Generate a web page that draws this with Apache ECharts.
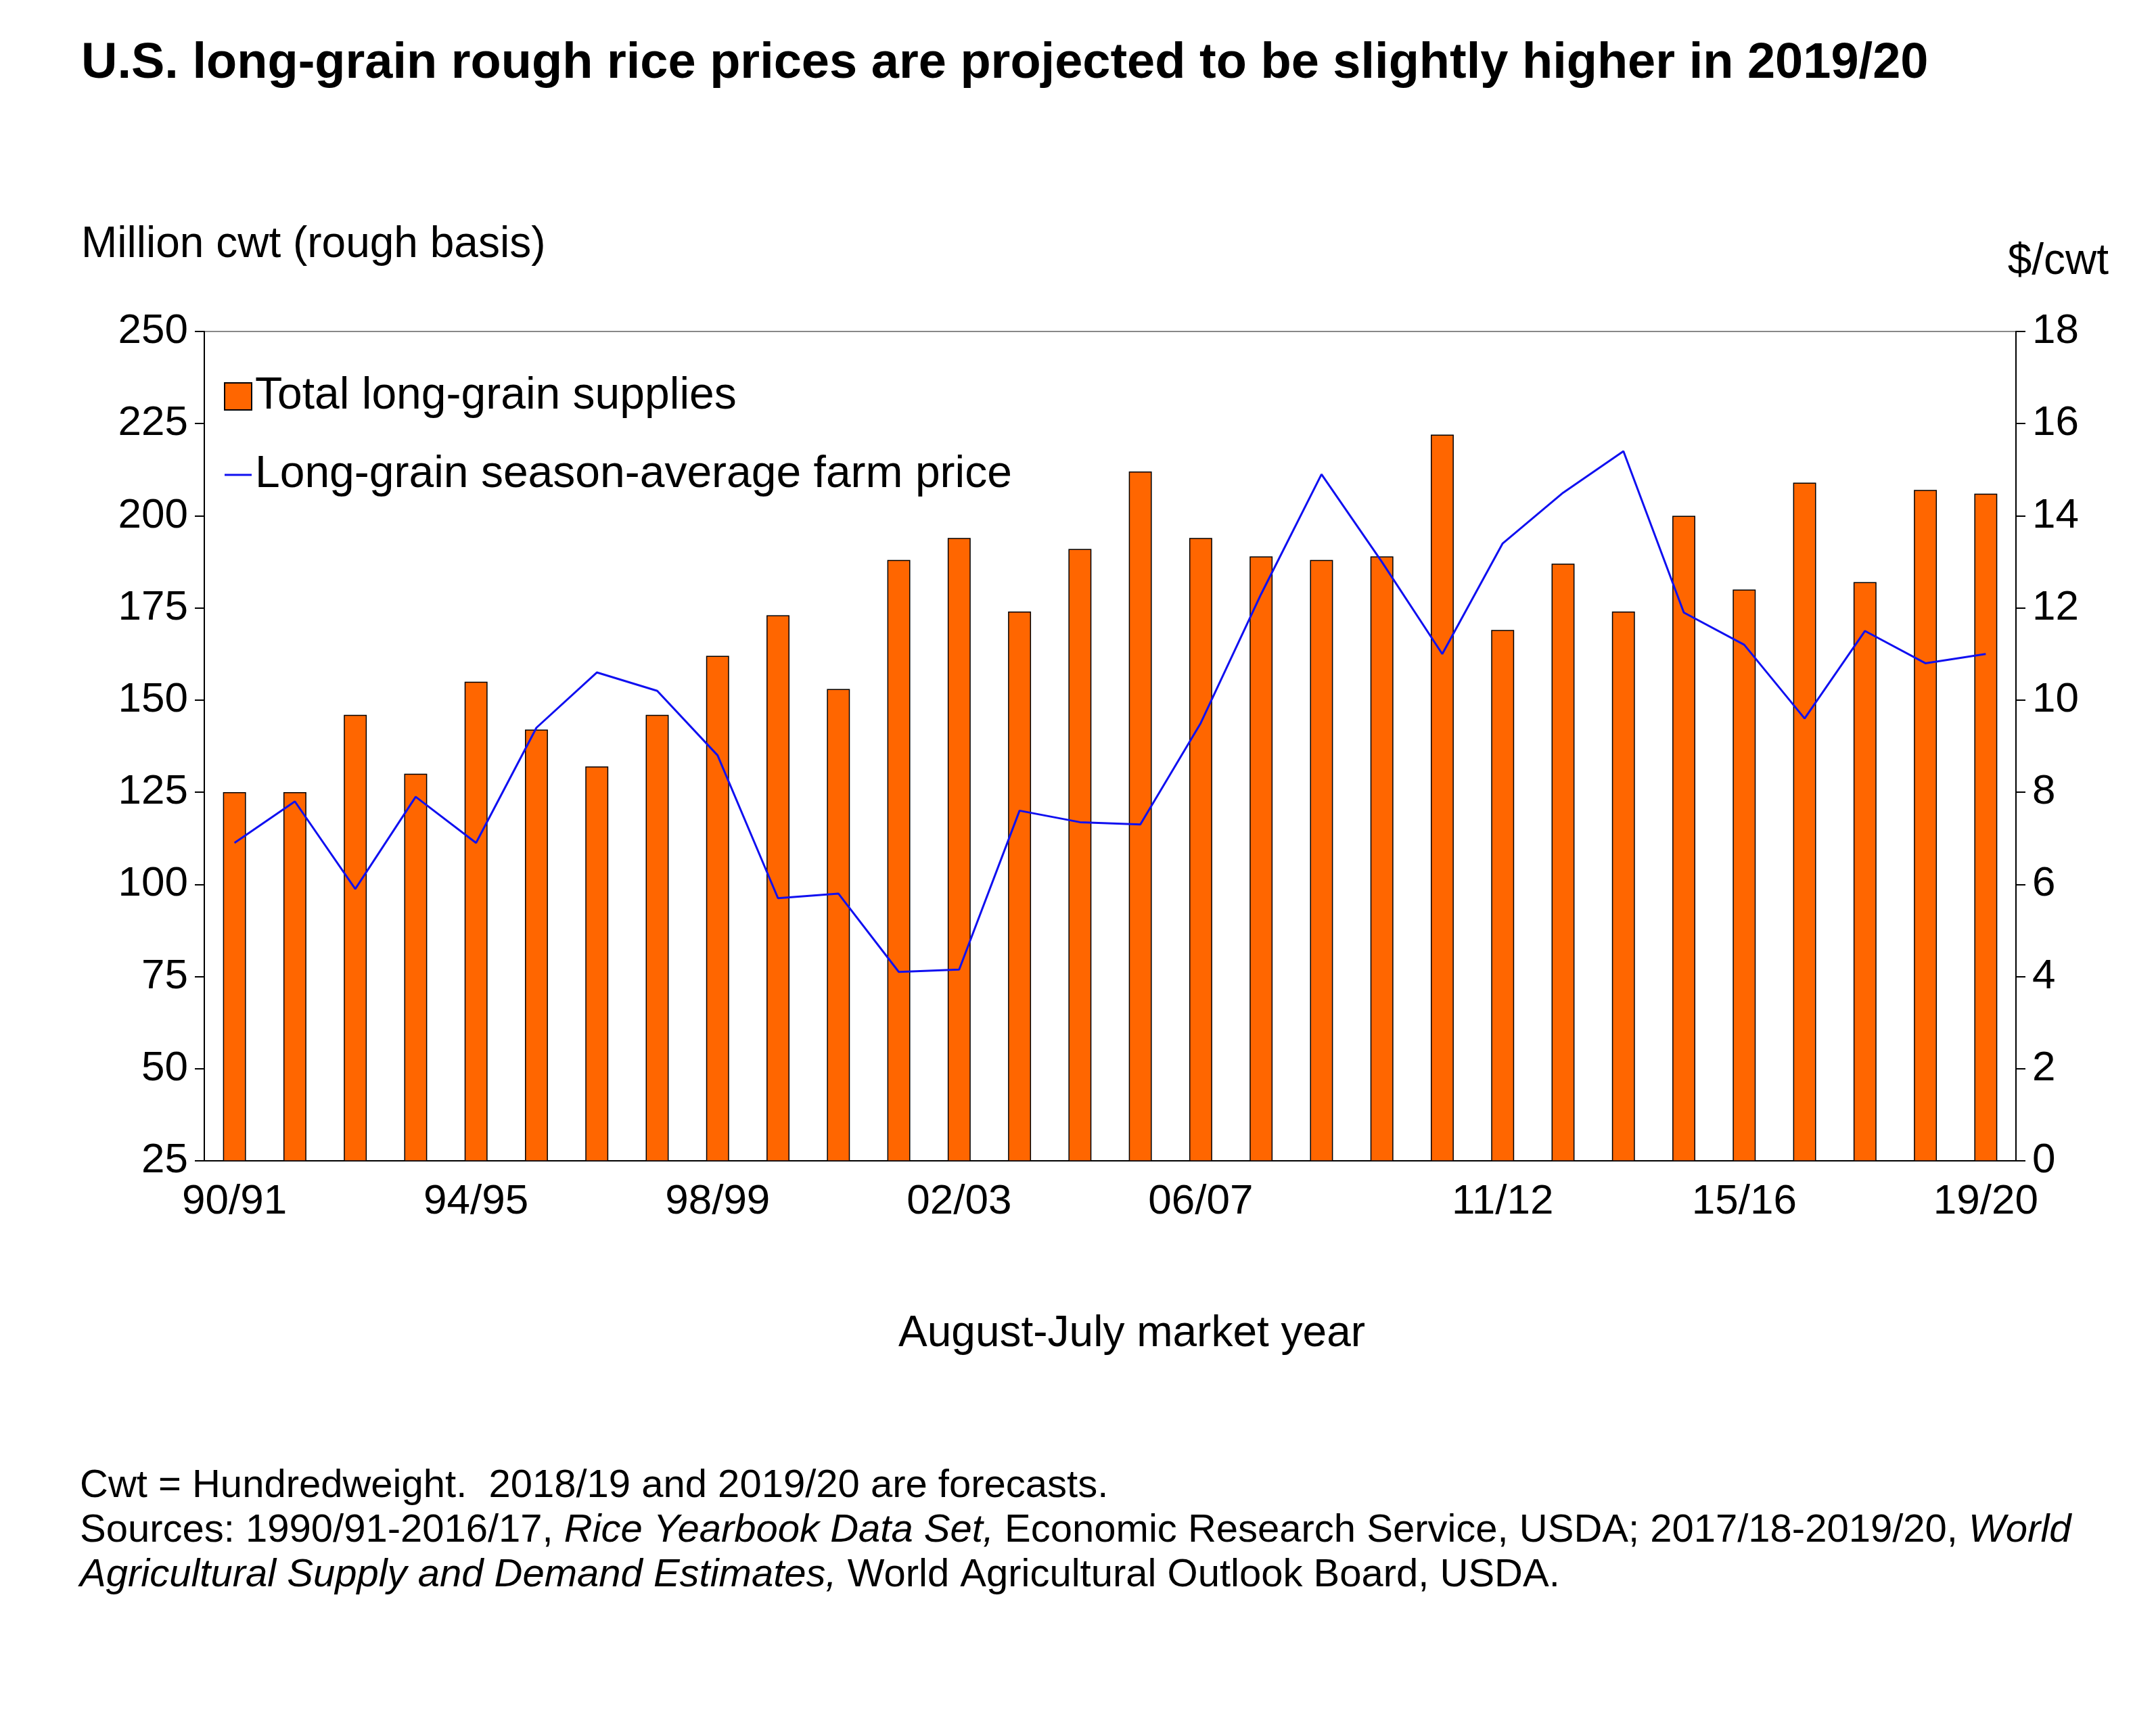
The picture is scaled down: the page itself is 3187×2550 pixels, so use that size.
<!DOCTYPE html><html><head><meta charset="utf-8">
<script src="https://cdn.jsdelivr.net/npm/echarts@6/dist/echarts.min.js"></script>
<style>body{margin:0;background:#fff}#c{width:3187px;height:2550px}</style></head><body><div id="c"></div><script>
const categories=["90/91","91/92","92/93","93/94","94/95","95/96","96/97","97/98","98/99","99/00","00/01","01/02","02/03","03/04","04/05","05/06","06/07","07/08","08/09","09/10","10/11","11/12","12/13","13/14","14/15","15/16","16/17","17/18","18/19","19/20"];
const supplies=[125,125,146,130,155,142,132,146,162,173,153,188,194,174,191,212,194,189,188,189,222,169,187,174,200,180,209,182,207,206];
const price=[6.9,7.8,5.9,7.9,6.9,9.4,10.6,10.2,8.8,5.7,5.8,4.1,4.15,7.6,7.35,7.3,9.5,12.3,14.9,13.0,11.0,13.4,14.5,15.4,11.9,11.2,9.6,11.5,10.8,11.0];
const shownLabels=[0,4,8,12,16,21,25,29];
const F="Liberation Sans, Arial, sans-serif";
const ch=echarts.init(document.getElementById('c'));
ch.setOption({
 textStyle:{fontFamily:F},
 graphic:[
  {type:'text',left:120,top:58,style:{text:'U.S. long-grain rough rice prices are projected to be slightly higher in 2019/20',font:'bold 74px '+F,fill:'#000'}},
  {type:'text',left:120,top:330,style:{text:'Million cwt (rough basis)',font:'64px '+F,fill:'#000'}},
  {type:'text',right:70,top:355,style:{text:'$/cwt',font:'64px '+F,fill:'#000'}},
  {type:'text',left:1328,top:1940,style:{text:'August-July market year',font:'64px '+F,fill:'#000'}},
  {type:'text',left:118,top:2168,style:{rich:{n:{font:'58px '+F,fill:'#000',lineHeight:66},i:{font:'italic 58px '+F,fill:'#000',lineHeight:66}},
   text:'{n|Cwt = Hundredweight.  2018/19 and 2019/20 are forecasts.}\n{n|Sources: 1990/91-2016/17, }{i|Rice Yearbook Data Set,}{n| Economic Research Service, USDA; 2017/18-2019/20, }{i|World}\n{i|Agricultural Supply and Demand Estimates,}{n| World Agricultural Outlook Board, USDA.}'}}
 ],
 legend:{orient:'vertical',left:326,top:548,itemGap:50,itemWidth:40,itemHeight:40,textStyle:{fontSize:66,color:'#000',fontFamily:F},
  data:[{name:'Total long-grain supplies',icon:'rect'},{name:'Long-grain season-average farm price',icon:'path://M0,19h40v3h-40z'}]},
 grid:{left:302,right:207,top:490,bottom:834,show:true,borderColor:'#888',borderWidth:2},
 xAxis:{type:'category',data:categories,axisLine:{lineStyle:{color:'#000',width:2}},axisTick:{show:false},
  axisLabel:{fontSize:62,color:'#000',margin:30,interval:(i)=>shownLabels.includes(i)}},
 yAxis:[
  {type:'value',min:25,max:250,interval:25,splitLine:{show:false},axisLine:{show:true,lineStyle:{color:'#000',width:2}},axisTick:{show:true,length:14,lineStyle:{width:2}},axisLabel:{fontSize:62,color:'#000',margin:24}},
  {type:'value',min:0,max:18,interval:2,splitLine:{show:false},axisLine:{show:true,lineStyle:{color:'#000',width:2}},axisTick:{show:true,length:14,lineStyle:{width:2}},axisLabel:{fontSize:62,color:'#000',margin:24}}
 ],
 series:[
  {name:'Total long-grain supplies',type:'bar',data:supplies,barWidth:'38%',itemStyle:{color:'#FF6600',borderColor:'#000',borderWidth:1.5}},
  {name:'Long-grain season-average farm price',type:'line',yAxisIndex:1,data:price,symbol:'none',lineStyle:{color:'#1010F0',width:3},itemStyle:{color:'#1010F0'}}
 ]
});
</script></body></html>
